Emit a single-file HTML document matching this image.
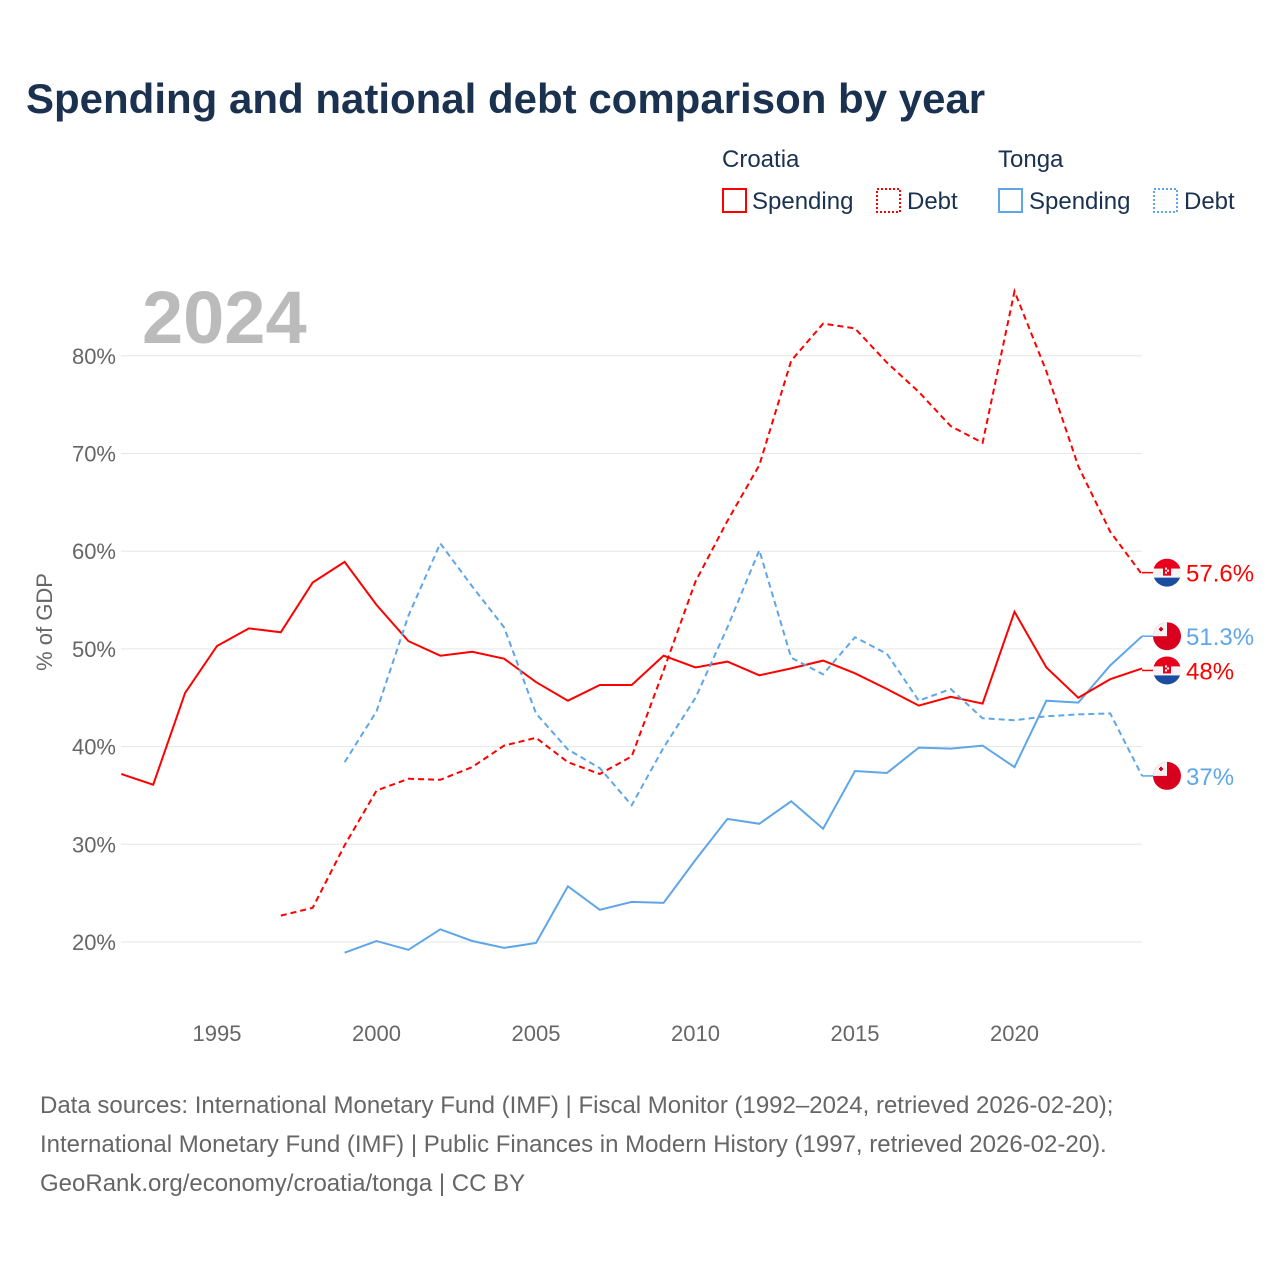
<!DOCTYPE html>
<html><head><meta charset="utf-8"><style>
body{margin:0;background:#fff;font-family:"Liberation Sans",sans-serif;}
#wrap{position:relative;width:1280px;height:1280px;overflow:hidden;}
svg text{font-family:"Liberation Sans",sans-serif;}
</style></head><body>
<div id="wrap">
<svg id="chart" width="1280" height="1280">
<text x="26" y="113" font-size="42" font-weight="bold" fill="#1b3150">Spending and national debt comparison by year</text>
<g>
<text x="722" y="167" font-size="24" fill="#1b3150">Croatia</text>
<text x="998" y="167" font-size="24" fill="#1b3150">Tonga</text>
<g><rect x="723" y="189" width="23" height="23" fill="none" stroke="#f00" stroke-width="2"/><text x="752" y="209" font-size="24" fill="#1b3150">Spending</text></g>
<g><rect x="877" y="189" width="23" height="23" fill="none" stroke="#f00" stroke-width="2" stroke-dasharray="2,2"/><text x="907" y="209" font-size="24" fill="#1b3150">Debt</text></g>
<g><rect x="999" y="189" width="23" height="23" fill="none" stroke="#5ea6e8" stroke-width="2"/><text x="1029" y="209" font-size="24" fill="#1b3150">Spending</text></g>
<g><rect x="1154" y="189" width="23" height="23" fill="none" stroke="#5ea6e8" stroke-width="2" stroke-dasharray="2,2"/><text x="1184" y="209" font-size="24" fill="#1b3150">Debt</text></g>
</g>
<text x="142" y="343" font-size="74" font-weight="bold" fill="#bbb">2024</text>
<g id="grid"></g><g id="lines"></g><g id="ends"></g>
<text transform="translate(52,622) rotate(-90)" text-anchor="middle" font-size="22" fill="#666">% of GDP</text>
<g font-size="24" fill="#666">
<text x="40" y="1113">Data sources: International Monetary Fund (IMF) | Fiscal Monitor (1992–2024, retrieved 2026-02-20);</text>
<text x="40" y="1152">International Monetary Fund (IMF) | Public Finances in Modern History (1997, retrieved 2026-02-20).</text>
<text x="40" y="1191">GeoRank.org/economy/croatia/tonga | CC BY</text>
</g>
</svg></div>
<script>
const yTicks=[20,30,40,50,60,70,80];
const xTicks=[1995,2000,2005,2010,2015,2020];
const hrvSpendStart=1992;
const hrvSpending=[37.2,36.1,45.5,50.3,52.1,51.7,56.8,58.9,54.5,50.8,49.3,49.7,49.0,46.6,44.7,46.3,46.3,49.3,48.1,48.7,47.3,48.0,48.8,47.5,45.9,44.2,45.1,44.4,53.8,48.1,45.0,46.9,48.0];
const hrvDebtStart=1997;
const hrvDebt=[22.7,23.5,29.9,35.5,36.7,36.6,37.9,40.1,40.9,38.4,37.2,39.0,47.8,56.9,63.1,68.8,79.5,83.3,82.8,79.3,76.3,72.8,71.1,86.6,78.4,68.7,62.0,57.6];
const tonSpendStart=1999;
const tonSpending=[18.9,20.1,19.2,21.3,20.1,19.4,19.9,25.7,23.3,24.1,24.0,28.4,32.6,32.1,34.4,31.6,37.5,37.3,39.9,39.8,40.1,37.9,44.7,44.5,48.3,51.3];
const tonDebtStart=1999;
const tonDebt=[38.4,43.6,53.4,60.8,56.4,52.2,43.4,39.7,37.8,34.0,39.9,45.0,52.2,60.1,49.1,47.4,51.2,49.5,44.7,45.9,42.9,42.7,43.1,43.3,43.4,37.0];
const endLabels=["57.6%","51.3%","48%","37%"];

const NS="http://www.w3.org/2000/svg";
const X=yr=>121.3+(yr-1992)*31.9;
const Y=v=>942-(v-20)*9.77;
function mk(t,a,p){const e=document.createElementNS(NS,t);for(const k in a)e.setAttribute(k,a[k]);p.appendChild(e);return e;}
const grid=document.getElementById('grid'),lines=document.getElementById('lines'),ends=document.getElementById('ends');
yTicks.forEach(v=>{
 const l=mk('line',{x1:121,x2:1142,y1:Y(v),y2:Y(v),stroke:'#e6e6e6','stroke-width':1},grid);
 
 
 const t=mk('text',{x:116,y:Y(v)+8,'text-anchor':'end','font-size':22,fill:'#666'},grid);t.textContent=v+'%';
 
 
});
xTicks.forEach(yr=>{
 const t=mk('text',{x:X(yr),y:1041,'text-anchor':'middle','font-size':22,fill:'#666'},grid);t.textContent=yr;
 
 
});
function series(arr,start,color,dash,name){
 const d=arr.map((v,i)=>(i?'L':'M')+X(start+i).toFixed(1)+','+Y(v).toFixed(1)).join('');
 const p=mk('path',{d:d,fill:'none',stroke:color,'stroke-width':2,'stroke-dasharray':dash||'none'},lines);
 
 
 return Y(arr[arr.length-1]);
}
const red='#f00',blue='#5ea6e8';
const e1=series(hrvDebt,hrvDebtStart,red,'6,4','line-croatia-debt');
const e2=series(tonSpending,tonSpendStart,blue,'','line-tonga-spending');
const e3=series(hrvSpending,hrvSpendStart,red,'','line-croatia-spending');
const e4=series(tonDebt,tonDebtStart,blue,'6,4','line-tonga-debt');
let fid=0;
function flag(cy,type,color,label,name){
 const g=mk('g',{},ends);
 
 
 const cx=1167;
 mk('line',{x1:1142,x2:1153,y1:cy,y2:cy,stroke:color,'stroke-width':1.5},g);
 const id='clipf'+(fid++);
 const cp=mk('clipPath',{id:id},g);mk('circle',{cx:cx,cy:cy,r:14},cp);
 const f=mk('g',{'clip-path':'url(#'+id+')'},g);
 if(type==='hr'){
  mk('rect',{x:cx-14,y:cy-14,width:28,height:10,fill:'#e8001c'},f);
  mk('rect',{x:cx-14,y:cy-4,width:28,height:9,fill:'#f4f4f4'},f);
  mk('rect',{x:cx-14,y:cy+5,width:28,height:10,fill:'#1a4ca0'},f);
  mk('rect',{x:cx-4,y:cy-7,width:8,height:10,fill:'#e8001c'},f);
  mk('rect',{x:cx-2,y:cy-5,width:2,height:2,fill:'#fff'},f);mk('rect',{x:cx,y:cy-3,width:2,height:2,fill:'#fff'},f);mk('rect',{x:cx-2,y:cy-1,width:2,height:2,fill:'#fff'},f);
 }else{
  mk('rect',{x:cx-14,y:cy-14,width:28,height:28,fill:'#d9001d'},f);
  mk('rect',{x:cx-14,y:cy-14,width:14,height:14,fill:'#f2f2f2'},f);
  mk('rect',{x:cx-8,y:cy-8,width:4,height:2,fill:'#d9001d'},f);mk('rect',{x:cx-7,y:cy-9,width:2,height:4,fill:'#d9001d'},f);
 }
 const t=mk('text',{x:1186,y:cy+9,'font-size':24,fill:color},g);t.textContent=label;
}
flag(e1-2,'hr',red,endLabels[0],'end-label-croatia-debt');
flag(e2,'to',blue,endLabels[1],'end-label-tonga-spending');
flag(e3+2,'hr',red,endLabels[2],'end-label-croatia-spending');
flag(e4,'to',blue,endLabels[3],'end-label-tonga-debt');
</script>
</body></html>
